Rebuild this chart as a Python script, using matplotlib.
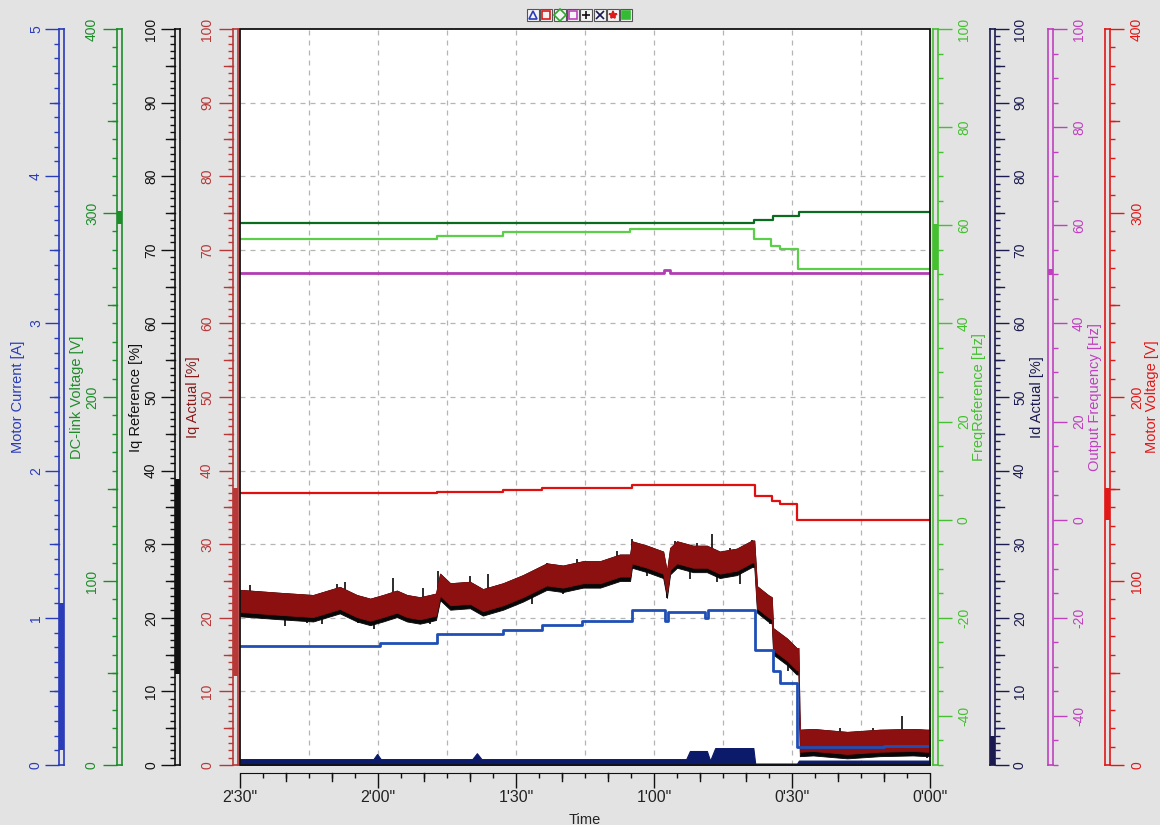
import matplotlib
matplotlib.use("Agg")
import matplotlib.pyplot as plt
import numpy as np
from matplotlib.lines import Line2D
from matplotlib.patches import Rectangle
from matplotlib.ticker import FuncFormatter, MultipleLocator
from matplotlib.transforms import blended_transform_factory

plt.rcParams["font.family"] = ["Liberation Sans", "DejaVu Sans"]
plt.rcParams["axes.unicode_minus"] = False
plt.rcParams["ytick.alignment"] = "center"

# time axis: seconds before the end of the trace, 2'30" down to 0'00"
TIME_START = 150
TIME_END = 0

MOTOR_CURRENT_T = [150, 119.6, 107.2, 92.8, 84.3, 75.7, 64.8, 57.6, 57.0, 48.9, 48.3, 38.0, 34.1, 32.6, 28.9, 10.0, 0]
MOTOR_CURRENT_A = [0.81, 0.83, 0.89, 0.92, 0.95, 0.98, 1.05, 0.98, 1.04, 1.00, 1.05, 0.78, 0.64, 0.56, 0.12, 0.13, 0.13]

DC_LINK_T = [150, 38.3, 34.1, 28.5, 0]
DC_LINK_V = [294.8, 296.0, 298.4, 300.8, 300.8]

FREQ_REF_T = [150, 107.2, 92.8, 65.2, 38.3, 34.6, 32.6, 28.7, 0]
FREQ_REF_HZ = [57.3, 57.9, 58.6, 59.3, 57.1, 55.8, 55.1, 51.0, 51.0]

OUTPUT_FREQ_T = [150, 57.8, 56.6, 0]
OUTPUT_FREQ_HZ = [50.2, 50.9, 50.2, 50.2]

MOTOR_VOLTAGE_T = [150, 107.2, 92.8, 84.3, 64.8, 38.0, 34.3, 32.6, 28.9, 0]
MOTOR_VOLTAGE_V = [147.6, 148.6, 149.7, 150.6, 152.4, 146.4, 143.3, 141.9, 133.2, 133.2]

IQ_T = [150, 141.3, 134.1, 128.3, 124.6, 121.7, 118.9, 115.9, 113.7, 110.9,
        108.7, 107.4, 106.5, 104.3, 100.0, 97.2, 92.8, 88.5, 83.3, 79.8,
        75.4, 71.7, 67.4, 65.2, 64.8, 61.5, 58.0, 57.2, 56.5, 55.0,
        51.5, 48.5, 45.7, 42.0, 38.7, 38.2, 37.6, 35.2, 34.4, 34.1,
        31.1, 29.0, 28.6, 28.3, 25.4, 18.0, 10.9, 3.7, 0.7, 0]
IQ_ACTUAL = [22.3, 21.9, 21.6, 22.7, 21.6, 21.1, 21.6, 22.2, 21.6, 21.3,
             21.6, 21.8, 24.5, 23.2, 23.4, 22.4, 23.2, 24.3, 25.9, 25.6,
             26.2, 26.2, 27.1, 27.1, 28.9, 28.3, 27.5, 24.8, 28.0, 28.9,
             28.3, 28.3, 27.5, 27.9, 29.0, 29.0, 22.8, 21.6, 21.3, 17.1,
             15.7, 14.4, 14.4, 3.3, 3.4, 3.0, 3.3, 3.4, 3.3, 3.3]
IQ_REFERENCE = [22.0, 21.6, 21.3, 22.4, 21.3, 20.8, 21.3, 21.9, 21.3, 21.0,
                21.3, 21.5, 24.2, 22.9, 23.1, 22.1, 22.9, 24.0, 25.6, 25.3,
                25.9, 25.9, 26.8, 26.8, 28.6, 28.0, 27.2, 24.5, 27.7, 28.6,
                28.0, 28.0, 27.2, 27.6, 28.7, 28.7, 22.5, 21.3, 21.0, 16.8,
                15.4, 14.1, 14.1, 3.0, 3.1, 2.7, 3.0, 3.1, 3.0, 3.0]
IQ_ACTUAL_RIPPLE = 1.5
IQ_REFERENCE_RIPPLE = 1.8
# isolated peaks of the reference signal
IQ_SPIKE_T = [147.8, 145.0, 140.2, 135.4, 132.2, 128.9, 127.2, 124.3, 120.9, 116.7,
              114.6, 110.2, 108.7, 107.0, 100.0, 97.8, 96.1, 89.8, 86.5, 83.3,
              79.8, 76.7, 73.9, 68.0, 66.7, 64.8, 61.5, 57.2, 55.4, 52.2,
              50.7, 47.4, 46.3, 43.5, 41.3, 38.7, 35.4, 34.8, 30.9, 27.8,
              19.6, 12.4, 6.1, 0.7]
IQ_SPIKE_PCT = [24.4, 20.0, 18.9, 19.3, 19.2, 24.6, 24.8, 19.3, 18.5, 25.4,
                20.5, 24.1, 19.2, 26.4, 25.7, 21.0, 26.0, 25.4, 21.9, 27.5,
                23.2, 28.0, 24.1, 29.1, 25.0, 30.7, 25.7, 22.7, 30.5, 25.3,
                30.1, 31.4, 24.8, 29.5, 24.6, 30.6, 23.2, 19.2, 12.8, 1.2,
                5.0, 5.0, 6.7, 1.0]

ID_T = [150, 121.0, 120.2, 119.4, 99.5, 98.5, 97.5, 53.0, 52.2, 48.5, 47.8, 46.7, 38.4, 38.0, 28.9, 28.5, 0]
ID_ACTUAL = [0.8, 0.8, 1.5, 0.8, 0.8, 1.6, 0.8, 0.8, 1.9, 1.9, 0.6, 2.3, 2.3, 0.2, 0.2, 0.6, 0.6]

# cursor min/max markers shown inside each scale strip
MOTOR_CURRENT_RANGE = [0.1, 1.1]
DC_LINK_RANGE = [294, 301]
IQ_REFERENCE_RANGE = [12.4, 38.9]
IQ_ACTUAL_RANGE = [12.1, 37.7]
FREQ_REF_RANGE = [50.8, 60.3]
ID_ACTUAL_RANGE = [0, 3.9]
OUTPUT_FREQ_RANGE = [49.8, 51.0]
MOTOR_VOLTAGE_RANGE = [133, 150.5]

FIG_W, FIG_H, DPI = 1160, 825, 100
PLOT_L, PLOT_R, PLOT_T, PLOT_B = 240, 930, 29, 765
PLOT_W = PLOT_R - PLOT_L
STRIP_W = 5
MAJOR_LEN = 14
BG = "#e3e3e3"


def px(v):
    return v * 72 / DPI


def fmt_time(t, _pos):
    t = int(round(t))
    return f"{t // 60}'{t % 60:02d}\""


fig = plt.figure(figsize=(FIG_W / DPI, FIG_H / DPI), dpi=DPI, facecolor=BG)
ax = fig.add_axes([PLOT_L / FIG_W, 1 - PLOT_B / FIG_H, PLOT_W / FIG_W, (PLOT_B - PLOT_T) / FIG_H])
ax.set_facecolor("white")
ax.set_xlim(TIME_START, TIME_END)
ax.set_ylim(0, 100)
ax.set_yticks([])
for s in ("left", "right", "top"):
    ax.spines[s].set_visible(False)
ax.spines["bottom"].set_position(("outward", px(8)))
ax.spines["bottom"].set_color("#111111")
ax.xaxis.set_major_locator(MultipleLocator(30))
ax.xaxis.set_minor_locator(MultipleLocator(5))
ax.xaxis.set_major_formatter(FuncFormatter(fmt_time))
ax.tick_params(axis="x", which="major", length=px(15), width=1, color="#111111",
               labelsize=11.5, labelcolor="#222222", pad=px(2))
ax.tick_params(axis="x", which="minor", length=px(5), width=1, color="#111111")
ax.set_xlabel("Time", fontsize=10.5, color="#222222")
ax.xaxis.set_label_coords(0.5, -(813 - PLOT_B) / (PLOT_B - PLOT_T))

# 10 s ticks sit between the 5 s and 30 s ones in length
xtrans = blended_transform_factory(ax.transData, ax.transAxes)
spine_y = -8 / (PLOT_B - PLOT_T)
for t in np.arange(10, 150, 10):
    if t % 30:
        ax.plot([t, t], [spine_y, spine_y - 8 / (PLOT_B - PLOT_T)], color="#111111", lw=1,
                transform=xtrans, clip_on=False)

# dashed grid: every 15 s and every 10 %
for t in np.arange(135, 0, -15):
    ax.axvline(t, color="#b5b5b5", lw=0.9, ls=(0, (4, 4)))
for v in np.arange(10, 100, 10):
    ax.axhline(v, color="#b5b5b5", lw=0.9, ls=(0, (4, 4)))

SCALES = [
    # key, label, axis colour, label colour, limits, side, outer spine x, major, minor, medium,
    # axis label x, tick label centre x
    ("mc", "Motor Current [A]", "#2a3cb8", "#2a3cb8", (0, 5), "left", 59, 1, 0.1, 0.5, 18, 38),
    ("dc", "DC-link Voltage [V]", "#1e8c2a", "#1e8c2a", (0, 400), "left", 117, 100, 10, 50, 77, 94),
    ("iqr", "Iq Reference [%]", "#111111", "#111111", (0, 100), "left", 175, 10, 1, 5, 136, 153),
    ("iqa", "Iq Actual [%]", "#b83838", "#8b1a1a", (0, 100), "left", 233, 10, 1, 5, 193, 209),
    ("fr", "FreqReference [Hz]", "#44c030", "#44c030", (-50, 100), "right", 938, 20, 5, None, 979, 962),
    ("id", "Id Actual [%]", "#1a1a50", "#1a1a50", (0, 100), "right", 995, 10, 1, 5, 1037, 1018),
    ("of", "Output Frequency [Hz]", "#c040c0", "#c040c0", (-50, 100), "right", 1053, 20, 5, None, 1095, 1077),
    ("mv", "Motor Voltage [V]", "#e01818", "#e01818", (0, 400), "right", 1110, 100, 10, 50, 1152, 1135),
]
RANGES = {"mc": MOTOR_CURRENT_RANGE, "dc": DC_LINK_RANGE, "iqr": IQ_REFERENCE_RANGE,
          "iqa": IQ_ACTUAL_RANGE, "fr": FREQ_REF_RANGE, "id": ID_ACTUAL_RANGE,
          "of": OUTPUT_FREQ_RANGE, "mv": MOTOR_VOLTAGE_RANGE}
DRAW_ORDER = {"id": 1, "iqr": 2, "iqa": 3, "mc": 4, "mv": 5, "fr": 6, "of": 7, "dc": 8}

axes = {}
for key, label, c, lc, (lo, hi), side, outer, major, minor, medium, label_x, tick_x in SCALES:
    tax = ax.twinx()
    tax.set_zorder(DRAW_ORDER[key])
    tax.set_ylim(lo, hi)
    for sp in tax.spines.values():
        sp.set_visible(False)
    x_out = (outer - PLOT_L) / PLOT_W
    direction = -1 if side == "left" else 1
    x_in = x_out - direction * STRIP_W / PLOT_W
    # gap between tick end and the (rotated, ~10 px wide) tick label
    pad = abs(tick_x - outer) - MAJOR_LEN - 5
    sp = tax.spines[side]
    sp.set_visible(True)
    sp.set_position(("axes", x_out))
    sp.set_color(c)
    sp.set_linewidth(1.2)
    tax.yaxis.set_ticks_position(side)
    tax.yaxis.set_label_position(side)
    tax.yaxis.set_major_locator(MultipleLocator(major))
    tax.yaxis.set_minor_locator(MultipleLocator(minor))
    tax.yaxis.set_major_formatter(FuncFormatter(lambda v, _p: f"{v:g}"))
    tax.tick_params(axis="y", which="major", length=px(MAJOR_LEN), width=1, color=c, labelcolor=c,
                    labelsize=10, pad=px(pad), labelrotation=90)
    tax.tick_params(axis="y", which="minor", length=px(5), width=1, color=c)
    tax.set_ylabel(label, color=lc, fontsize=10.5)
    tax.yaxis.label.set_rotation(90)
    tax.yaxis.label.set_rotation_mode("anchor")
    tax.yaxis.label.set_horizontalalignment("center")
    tax.yaxis.label.set_verticalalignment("center")
    tax.yaxis.set_label_coords((label_x - PLOT_L) / PLOT_W, 0.5)

    trans = blended_transform_factory(ax.transAxes, tax.transData)
    # second rail of the scale strip with end caps
    tax.plot([x_in, x_in], [lo, hi], color=c, lw=1.2, transform=trans, clip_on=False)
    tax.plot([x_out, x_in], [lo, lo], color=c, lw=1.2, transform=trans, clip_on=False)
    tax.plot([x_out, x_in], [hi, hi], color=c, lw=1.2, transform=trans, clip_on=False)
    if medium is not None:
        for v in np.arange(lo + medium, hi, major):
            tax.plot([x_out, x_out + direction * 9 / PLOT_W], [v, v], color=c, lw=1,
                     transform=trans, clip_on=False)
    r0, r1 = RANGES[key]
    tax.add_patch(Rectangle((min(x_in, x_out), r0), STRIP_W / PLOT_W, r1 - r0, transform=trans,
                            facecolor=c, edgecolor="none", clip_on=False))
    axes[key] = tax

# Id actual: thin band hugging zero
axes["id"].fill_between(ID_T, 0, ID_ACTUAL, color="#0c1a6a", lw=0.8)

# Iq reference (black) under Iq actual (dark red), both ripple bands
iqr = np.array(IQ_REFERENCE)
iqa = np.array(IQ_ACTUAL)
axes["iqr"].fill_between(IQ_T, iqr - IQ_REFERENCE_RIPPLE, iqr + IQ_REFERENCE_RIPPLE,
                         color="#080808", lw=0.6)
spike_base = np.interp(IQ_SPIKE_T, IQ_T[::-1], IQ_REFERENCE[::-1])
axes["iqr"].vlines(IQ_SPIKE_T, spike_base, IQ_SPIKE_PCT, color="#080808", lw=1.2)
axes["iqa"].fill_between(IQ_T, iqa - IQ_ACTUAL_RIPPLE, iqa + IQ_ACTUAL_RIPPLE,
                         color="#8c1010", lw=0.6)

axes["mc"].plot(MOTOR_CURRENT_T, MOTOR_CURRENT_A, drawstyle="steps-post", color="#1f4fb5", lw=2)
axes["mv"].plot(MOTOR_VOLTAGE_T, MOTOR_VOLTAGE_V, drawstyle="steps-post", color="#e01010", lw=1.6)
axes["fr"].plot(FREQ_REF_T, FREQ_REF_HZ, drawstyle="steps-post", color="#5ccf4a", lw=1.6)
axes["of"].plot(OUTPUT_FREQ_T, OUTPUT_FREQ_HZ, drawstyle="steps-post", color="#b33cb3", lw=2)
axes["dc"].plot(DC_LINK_T, DC_LINK_V, drawstyle="steps-post", color="#0b6b1f", lw=1.6)

# plot frame on top of all scales
fig.add_artist(Rectangle((0, 0), 1, 1, transform=ax.transAxes, fill=False, edgecolor="#111111",
                         lw=1.3, zorder=20))

# row of channel symbols above the plot
ICONS = [("^", "#2a3cb8", "none"), ("s", "#e01818", "none"), ("D", "#2aa82a", "none"),
         ("s", "#c040c0", "none"), ("+", "#111111", "none"), ("x", "#1a1a50", "none"),
         ("*", "#e01818", "#e01818"), ("s", "#33bb33", "#33bb33")]
for i, (marker, mc, mfc) in enumerate(ICONS):
    cx = 533 + 13.3 * i
    cy = 15
    fig.add_artist(Rectangle(((cx - 6) / FIG_W, 1 - (cy + 6) / FIG_H), 12 / FIG_W, 12 / FIG_H,
                             transform=fig.transFigure, facecolor="#f4f4f4", edgecolor="#555555",
                             lw=0.8))
    fig.add_artist(Line2D([cx / FIG_W], [1 - cy / FIG_H], transform=fig.transFigure, marker=marker,
                          markersize=6, color=mc, markerfacecolor=mfc, markeredgewidth=1.2,
                          linestyle="none"))

fig.savefig("out.png", dpi=DPI, facecolor=fig.get_facecolor())
